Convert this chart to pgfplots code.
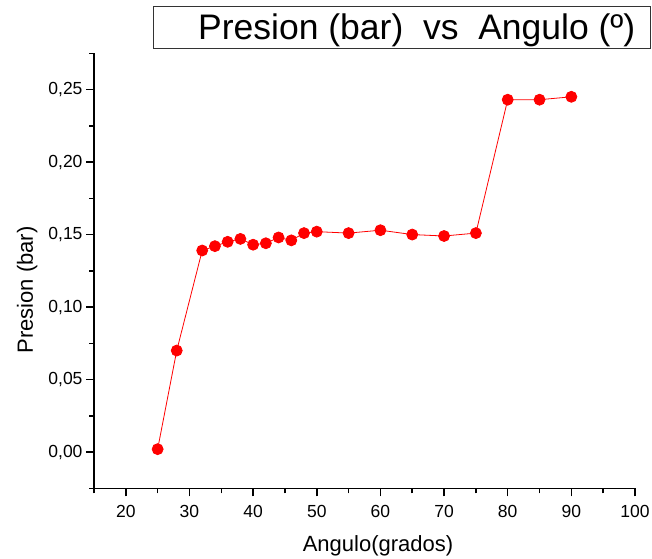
\documentclass[border=0pt]{standalone}
\usepackage{pgfplots}
\pgfplotsset{compat=1.18}
\usepackage{fontspec}
\setmainfont{Liberation Sans}
\begin{document}
\begin{tikzpicture}[x=1pt,y=1pt]
\useasboundingbox (0,0) rectangle (652,558);
\begin{axis}[
  at={(94pt,69.7pt)}, anchor=south west,
  scale only axis, width=541pt, height=435pt,
  xmin=15, xmax=100, ymin=-0.025, ymax=0.275,
  axis x line*=bottom, axis y line*=left,
  axis line style={line width=1.6pt, black, -},
  xtick={20,30,40,50,60,70,80,90,100},
  minor xtick={15,25,35,45,55,65,75,85,95},
  ytick={0,0.05,0.10,0.15,0.20,0.25},
  minor ytick={-0.025,0.025,0.075,0.125,0.175,0.225,0.275},
  tick align=outside,
  major tick length=8pt, minor tick length=5pt,
  every tick/.style={black, line width=1.5pt},
  /pgf/number format/assume math mode=true,
  tick label style={font=\fontsize{17.5}{20}\selectfont},
  yticklabel style={/pgf/number format/.cd, use comma, fixed, fixed zerofill, precision=2},
  xticklabel style={yshift=-5pt, /pgf/number format/.cd, fixed, precision=0},
  xlabel={Angulo(grados)},
  ylabel={Presion (bar)},
  label style={font=\fontsize{22}{26}\selectfont},
  xlabel style={at={(axis description cs:0.525,-0.1464)}, anchor=base},
  ylabel style={at={(axis description cs:-0.1128,0.456)}, anchor=base},
  clip=false,
]
\addplot[red, line width=0.8pt, mark=*, mark size=5.5pt, mark options={fill=red, draw=red}] coordinates {
(25,0.002) (28,0.070) (32,0.139) (34,0.142) (36,0.145) (38,0.147)
(40,0.143) (42,0.144) (44,0.148) (46,0.146) (48,0.151) (50,0.152)
(55,0.151) (60,0.153) (65,0.150) (70,0.149) (75,0.151)
(80,0.243) (85,0.243) (90,0.245)
};
\end{axis}
\draw[line width=1pt, black!80] (153,551.3) rectangle (650,509);
\node[anchor=base west, inner sep=0pt, font=\fontsize{35.5}{40}\selectfont] at (198,518.7) {Presion (bar)\ \ vs\ \ Angulo (º)};
\end{tikzpicture}
\end{document}
